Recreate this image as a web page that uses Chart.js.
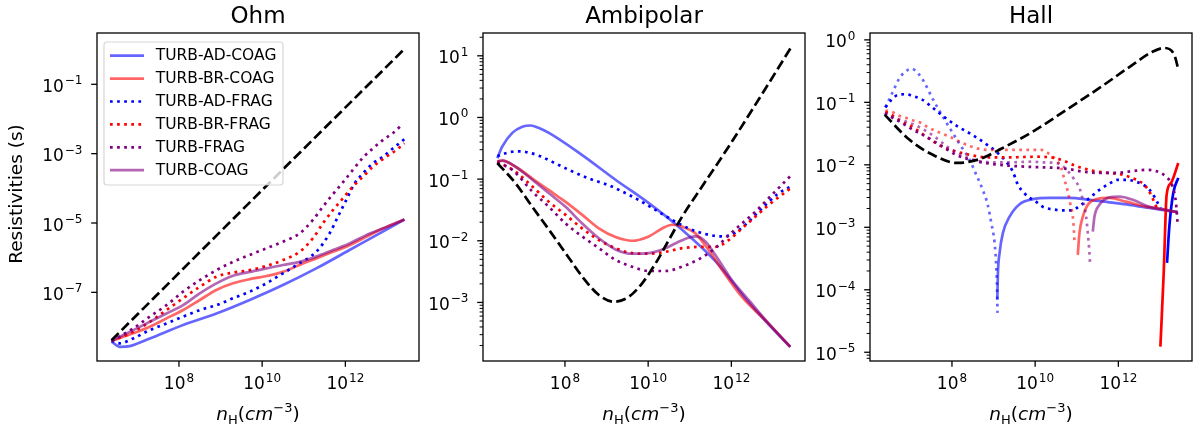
<!DOCTYPE html>
<html>
<head>
<meta charset="utf-8">
<script src="https://cdn.jsdelivr.net/npm/chart.js@4.4.0/dist/chart.umd.min.js"></script>
<style>
  body { margin: 0; background: #fff; }
  #wrap { position: relative; width: 1200px; height: 437px; overflow: hidden; }
  canvas { position: absolute; top: 0; }
</style>
</head>
<body>
<div id="wrap">
  <canvas id="ohm" width="420" height="437" style="left:0px"></canvas>
  <canvas id="ambi" width="390" height="437" style="left:420px"></canvas>
  <canvas id="hall" width="390" height="437" style="left:810px"></canvas>
</div>
<script>
// every point is [log10 nH, log10 resistivity]

// x axis (shared)
const xRange = [6.03, 13.77];
const xTicks = [8, 10, 12];

// Ohm panel
const ohmYRange = [-8.98, 0.48];
const ohmYTicks = [-7, -5, -3, -1];
const ohmAdCoag = [[6.38,-8.42],[6.58,-8.57],[6.82,-8.55],[7.3,-8.33],[8.1,-7.94],[8.9,-7.61],[9.7,-7.22],[10.5,-6.79],[11.3,-6.31],[12.1,-5.78],[12.9,-5.25],[13.42,-4.9]];
const ohmBrCoag = [[6.38,-8.4],[6.9,-8.18],[7.3,-7.99],[7.7,-7.75],[8.1,-7.51],[8.5,-7.22],[8.9,-6.93],[9.3,-6.74],[9.7,-6.62],[10.1,-6.53],[10.5,-6.41],[10.9,-6.21],[11.3,-6.02],[11.7,-5.83],[12.1,-5.64],[12.5,-5.4],[12.9,-5.16],[13.42,-4.9]];
const ohmAdFrag = [[6.38,-8.4],[6.58,-8.47],[6.9,-8.33],[7.3,-8.09],[7.7,-7.9],[8.1,-7.7],[8.5,-7.51],[8.9,-7.37],[9.3,-7.17],[9.7,-6.98],[10.1,-6.74],[10.5,-6.45],[10.9,-6.16],[11.3,-5.83],[11.62,-5.3],[11.82,-4.82],[12.02,-4.34],[12.22,-3.86],[12.42,-3.57],[12.66,-3.28],[12.9,-3.09],[13.14,-2.85],[13.34,-2.66],[13.42,-2.58]];
const ohmBrFrag = [[6.38,-8.4],[6.9,-8.14],[7.3,-7.85],[7.7,-7.51],[8.1,-7.17],[8.5,-6.84],[8.9,-6.55],[9.3,-6.43],[9.7,-6.36],[10.1,-6.24],[10.5,-6.07],[10.9,-5.83],[11.22,-5.44],[11.46,-5.01],[11.7,-4.63],[11.94,-4.29],[12.18,-3.95],[12.42,-3.67],[12.66,-3.38],[12.98,-3.09],[13.22,-2.9],[13.42,-2.7]];
const ohmFrag = [[6.38,-8.4],[6.9,-8.04],[7.3,-7.7],[7.7,-7.37],[8.1,-6.98],[8.5,-6.65],[8.9,-6.36],[9.3,-6.12],[9.7,-5.92],[10.1,-5.73],[10.5,-5.54],[10.9,-5.3],[11.22,-4.91],[11.46,-4.53],[11.7,-4.17],[11.94,-3.83],[12.18,-3.47],[12.42,-3.12],[12.66,-2.85],[12.9,-2.61],[13.14,-2.41],[13.34,-2.19]];
const ohmCoag = [[6.38,-8.4],[6.9,-8.09],[7.3,-7.85],[7.7,-7.61],[8.1,-7.37],[8.5,-7.03],[8.9,-6.74],[9.3,-6.52],[9.7,-6.41],[10.1,-6.31],[10.5,-6.21],[10.9,-6.12],[11.3,-5.97],[11.7,-5.78],[12.1,-5.59],[12.5,-5.35],[12.9,-5.16],[13.42,-4.9]];
const ohmTotal = [[6.38,-8.38],[10.0,-4.05],[13.42,0.02]];

// Ambipolar panel
const ambYRange = [-3.95, 1.37];
const ambYTicks = [-3, -2, -1, 0, 1];
const ambAdCoag = [[6.375,-0.66],[6.495,-0.47],[6.735,-0.25],[6.975,-0.15],[7.175,-0.13],[7.375,-0.17],[7.615,-0.25],[8.415,-0.61],[9.215,-1.01],[10.015,-1.39],[10.815,-1.82],[11.615,-2.33],[12.415,-3.0],[12.9,-3.36],[13.415,-3.72]];
const ambBrCoag = [[6.375,-0.71],[6.495,-0.7],[6.815,-0.8],[7.215,-0.99],[7.615,-1.18],[8.015,-1.37],[8.415,-1.58],[8.815,-1.8],[9.215,-1.94],[9.615,-2.0],[10.015,-1.93],[10.335,-1.8],[10.575,-1.74],[10.815,-1.77],[11.135,-1.88],[11.455,-2.15],[11.775,-2.47],[12.255,-2.91],[12.815,-3.29],[13.415,-3.72]];
const ambAdFrag = [[6.375,-0.63],[6.575,-0.58],[6.815,-0.55],[7.055,-0.56],[7.375,-0.62],[7.695,-0.72],[8.095,-0.85],[8.575,-0.99],[9.055,-1.1],[9.375,-1.2],[9.775,-1.34],[10.175,-1.5],[10.575,-1.66],[10.975,-1.8],[11.375,-1.89],[11.775,-1.93],[11.975,-1.91],[12.175,-1.83],[12.415,-1.69],[12.655,-1.53],[12.895,-1.37],[13.135,-1.23],[13.42,-1.12]];
const ambBrFrag = [[6.375,-0.71],[6.815,-0.88],[7.215,-1.12],[7.615,-1.37],[8.015,-1.58],[8.415,-1.8],[8.815,-1.99],[9.215,-2.12],[9.615,-2.2],[10.015,-2.21],[10.415,-2.18],[10.815,-2.12],[11.215,-2.1],[11.615,-2.1],[11.935,-1.99],[12.255,-1.8],[12.575,-1.61],[12.895,-1.42],[13.42,-1.15]];
const ambFrag = [[6.375,-0.74],[6.735,-0.85],[7.215,-1.2],[7.615,-1.45],[8.015,-1.72],[8.415,-1.93],[8.815,-2.12],[9.215,-2.31],[9.615,-2.42],[10.015,-2.49],[10.415,-2.49],[10.815,-2.42],[11.215,-2.3],[11.615,-2.12],[11.935,-1.91],[12.255,-1.72],[12.575,-1.53],[12.895,-1.31],[13.42,-0.95]];
const ambCoag = [[6.375,-0.71],[6.495,-0.7],[6.815,-0.8],[7.215,-1.01],[7.615,-1.23],[8.015,-1.45],[8.415,-1.72],[8.815,-1.96],[9.215,-2.14],[9.615,-2.21],[10.015,-2.2],[10.415,-2.12],[10.815,-1.99],[11.135,-1.93],[11.375,-2.01],[11.615,-2.23],[12.015,-2.64],[12.415,-2.96],[12.895,-3.34],[13.415,-3.72]];
const ambTotal = [[6.375,-0.74],[6.815,-1.07],[7.215,-1.45],[7.615,-1.82],[8.015,-2.2],[8.415,-2.58],[8.815,-2.88],[9.175,-2.99],[9.535,-2.91],[9.855,-2.69],[10.175,-2.37],[10.495,-1.99],[10.815,-1.61],[11.215,-1.2],[11.615,-0.8],[12.015,-0.39],[12.655,0.29],[13.42,1.12]];

// Hall panel (the fainter copies are the other sign)
const hallYRange = [-5.14, 0.11];
const hallYTicks = [-5, -4, -3, -2, -1, 0];
const hallAdFragNeg = [[6.40,-1.08],[6.58,-0.83],[6.74,-0.61],[6.86,-0.52],[7.03,-0.46],[7.18,-0.53],[7.345,-0.69],[7.51,-0.91],[7.71,-1.15],[7.945,-1.41],[8.225,-1.71],[8.425,-1.92],[8.585,-2.16],[8.74,-2.4],[8.86,-2.64],[8.945,-2.93],[9.025,-3.25],[9.065,-3.63],[9.085,-4.0],[9.095,-4.37]];
const hallAdFrag = [[6.40,-1.08],[6.545,-0.96],[6.7,-0.88],[6.9,-0.87],[7.06,-0.9],[7.27,-0.95],[7.545,-1.09],[7.825,-1.24],[8.145,-1.39],[8.465,-1.51],[8.785,-1.65],[9.065,-1.79],[9.305,-1.95],[9.465,-2.11],[9.585,-2.32],[9.705,-2.43],[9.85,-2.52],[10.0,-2.58],[10.18,-2.67],[10.505,-2.72],[10.865,-2.73],[11.105,-2.64],[11.345,-2.51],[11.545,-2.4],[11.785,-2.3],[11.985,-2.24],[12.185,-2.24],[12.425,-2.27],[12.665,-2.35],[12.82,-2.46],[12.945,-2.61],[13.02,-2.69]];
const hallBrFragNeg = [[6.40,-1.13],[6.545,-1.15],[6.745,-1.22],[6.905,-1.25],[7.065,-1.29],[7.265,-1.33],[7.425,-1.4],[7.945,-1.55],[8.425,-1.7],[8.825,-1.76],[9.385,-1.76],[9.945,-1.76],[10.145,-1.76],[10.305,-1.81],[10.505,-1.92],[10.625,-2.05],[10.705,-2.24],[10.785,-2.43],[10.84,-2.61],[10.905,-2.83],[10.93,-3.04],[10.945,-3.23]];
const hallBrFrag = [[6.40,-1.15],[6.545,-1.2],[6.745,-1.29],[7.065,-1.4],[7.385,-1.55],[7.705,-1.69],[8.025,-1.77],[8.425,-1.84],[8.825,-1.88],[9.385,-1.88],[10.025,-1.87],[10.465,-1.89],[10.665,-1.93],[10.985,-2.02],[11.345,-2.09],[11.745,-2.13],[12.105,-2.16],[12.425,-2.24],[12.625,-2.32],[12.785,-2.48],[12.89,-2.64],[12.95,-2.73]];
const hallFragNeg = [[6.385,-1.17],[6.585,-1.24],[6.905,-1.31],[7.225,-1.4],[7.585,-1.55],[7.905,-1.72],[8.225,-1.84],[8.585,-1.93],[8.985,-1.96],[9.385,-1.96],[9.945,-1.95],[10.185,-1.96],[10.465,-1.97],[10.625,-2.0],[10.825,-2.13],[10.945,-2.24],[11.065,-2.37],[11.145,-2.56],[11.225,-2.83],[11.265,-3.09],[11.305,-3.41],[11.32,-3.6]];
const hallFrag = [[6.385,-1.18],[6.745,-1.31],[7.065,-1.44],[7.385,-1.55],[7.705,-1.68],[8.105,-1.84],[8.505,-1.93],[8.905,-1.98],[9.305,-2.01],[9.785,-2.03],[10.185,-2.04],[10.545,-2.05],[10.825,-2.07],[11.145,-2.11],[11.545,-2.13],[11.945,-2.13],[12.345,-2.1],[12.665,-2.08],[12.905,-2.1],[13.145,-2.19],[13.305,-2.35],[13.385,-2.61],[13.425,-2.95]];
const hallAdCoag = [[9.09,-4.16],[9.105,-3.73],[9.145,-3.41],[9.225,-3.09],[9.385,-2.83],[9.625,-2.63],[9.945,-2.55],[10.345,-2.53],[10.825,-2.53],[11.305,-2.56],[11.785,-2.6],[12.265,-2.64],[12.745,-2.69],[13.225,-2.74],[13.42,-2.75]];
const hallBrCoag = [[11.025,-3.44],[11.065,-3.09],[11.145,-2.83],[11.265,-2.64],[11.465,-2.55],[11.785,-2.53],[12.185,-2.59],[12.665,-2.67],[13.145,-2.72],[13.42,-2.76]];
const hallCoag = [[11.385,-3.07],[11.425,-2.83],[11.545,-2.64],[11.785,-2.52],[12.025,-2.51],[12.345,-2.56],[12.745,-2.67],[13.145,-2.72],[13.43,-2.76]];
const hallAdCoagNeg = [[13.17,-3.57],[13.225,-2.99],[13.32,-2.45],[13.44,-2.21]];
const hallBrCoagNeg = [[13.01,-4.91],[13.09,-3.73],[13.16,-2.48],[13.265,-2.29],[13.44,-1.97]];
const hallTotal = [[6.385,-1.2],[6.98,-1.6],[7.54,-1.84],[8.11,-1.97],[8.66,-1.91],[9.22,-1.73],[9.94,-1.47],[10.75,-1.12],[11.545,-0.77],[12.34,-0.4],[12.82,-0.19],[13.1,-0.13],[13.345,-0.24],[13.44,-0.47]];

const LW = 2.7;
const DOT = [2.7, 4.4];
const DASH = [10, 4.3];
const st = {
  adCoag: { color: 'rgba(0,0,255,0.6)', dash: [] },
  brCoag: { color: 'rgba(255,0,0,0.6)', dash: [] },
  adFrag: { color: '#0000ff', dash: DOT },
  brFrag: { color: '#ff0000', dash: DOT },
  frag: { color: '#800080', dash: DOT },
  coag: { color: 'rgba(128,0,128,0.6)', dash: [] },
  adFragNeg: { color: 'rgba(0,0,255,0.6)', dash: DOT },
  brFragNeg: { color: 'rgba(255,0,0,0.6)', dash: DOT },
  fragNeg: { color: 'rgba(128,0,128,0.6)', dash: DOT },
  adCoagNeg: { color: '#0000ff', dash: [] },
  brCoagNeg: { color: '#ff0000', dash: [] },
  total: { color: '#000000', dash: DASH }
};

const FONT = '"DejaVu Sans", sans-serif';
const pts = a => a.map(p => ({ x: 10 ** p[0], y: 10 ** p[1] }));

function drawLegend(chart) {
  const ctx = chart.ctx;
  const items = chart.data.datasets.filter(d => d.label);
  ctx.save();
  ctx.beginPath();
  if (ctx.roundRect) ctx.roundRect(104, 42, 179, 143, 3); else ctx.rect(104, 42, 179, 143);
  ctx.fillStyle = 'rgba(255,255,255,0.8)';
  ctx.fill();
  ctx.lineWidth = 1.2;
  ctx.strokeStyle = 'rgba(204,204,204,0.8)';
  ctx.stroke();
  ctx.font = '15.5px ' + FONT;
  ctx.textBaseline = 'middle';
  items.forEach((d, i) => {
    const y = 55.7 + i * 22.9;
    ctx.beginPath();
    ctx.setLineDash(d.borderDash);
    ctx.strokeStyle = d.borderColor;
    ctx.lineWidth = LW;
    ctx.moveTo(110, y);
    ctx.lineTo(144, y);
    ctx.stroke();
    ctx.setLineDash([]);
    ctx.fillStyle = '#000';
    ctx.fillText(d.label, 155.7, y + 0.5);
  });
  ctx.restore();
}

// "10" with a raised exponent, like matplotlib's log tick labels
function drawPow(ctx, e, x, base, align) {
  const mainF = '17px ' + FONT, expF = '12px ' + FONT;
  const ex = String(e).replace('-', '−');
  ctx.font = mainF;
  const w1 = ctx.measureText('10').width;
  ctx.font = expF;
  const w2 = ctx.measureText(ex).width;
  const left = align === 'right' ? x - w1 - 1 - w2 : x - (w1 + 1 + w2) / 2;
  ctx.textAlign = 'left';
  ctx.textBaseline = 'alphabetic';
  ctx.font = mainF;
  ctx.fillText('10', left, base);
  ctx.font = expF;
  ctx.fillText(ex, left + w1 + 1, base - 7.5);
}

function drawXLabel(ctx, cx, base) {
  const big = '18.5px ' + FONT, bigI = 'italic 18.5px ' + FONT, small = '13px ' + FONT;
  const parts = [['n', bigI, 0], ['H', small, 4], ['(', big, 0], ['cm', bigI, 0], ['−3', small, -8], [')', big, 0]];
  let w = 0;
  parts.forEach(p => { ctx.font = p[1]; w += ctx.measureText(p[0]).width; });
  let x = cx - w / 2;
  ctx.textAlign = 'left';
  ctx.textBaseline = 'alphabetic';
  parts.forEach(p => {
    ctx.font = p[1];
    ctx.fillText(p[0], x, base + p[2]);
    x += ctx.measureText(p[0]).width;
  });
}

const framePlugin = {
  id: 'frame',
  afterDatasetsDraw(chart, args, opts) {
    if (opts.legend) drawLegend(chart);
  },
  afterDraw(chart, args, opts) {
    const { ctx, chartArea: a } = chart;
    const xs = chart.scales.x, ys = chart.scales.y;
    ctx.save();
    ctx.strokeStyle = '#000';
    ctx.fillStyle = '#000';

    // minor ticks on the y axis
    if (opts.minor) {
      ctx.lineWidth = 1;
      const lo = Math.floor(Math.log10(ys.min)), hi = Math.ceil(Math.log10(ys.max));
      for (let e = lo; e <= hi; e++) {
        for (let k = 2; k < 10; k++) {
          const v = k * 10 ** e;
          if (v < ys.min || v > ys.max) continue;
          const py = ys.getPixelForValue(v);
          ctx.beginPath();
          ctx.moveTo(a.left, py);
          ctx.lineTo(a.left - 3.4, py);
          ctx.stroke();
        }
      }
    }

    // major ticks and labels
    ctx.lineWidth = 1.3;
    xs.ticks.forEach(t => {
      const px = xs.getPixelForValue(t.value);
      ctx.beginPath();
      ctx.moveTo(px, a.bottom);
      ctx.lineTo(px, a.bottom + 5.8);
      ctx.stroke();
      drawPow(ctx, Math.round(Math.log10(t.value)), px, a.bottom + 28, 'center');
    });
    ys.ticks.forEach(t => {
      const py = ys.getPixelForValue(t.value);
      ctx.beginPath();
      ctx.moveTo(a.left, py);
      ctx.lineTo(a.left - 5.8, py);
      ctx.stroke();
      drawPow(ctx, Math.round(Math.log10(t.value)), a.left - 14.5, py + 7.5, 'right');
    });

    ctx.strokeRect(a.left, a.top, a.right - a.left, a.bottom - a.top);

    const cx = (a.left + a.right) / 2;
    ctx.font = '23px ' + FONT;
    ctx.textAlign = 'center';
    ctx.textBaseline = 'alphabetic';
    ctx.fillText(opts.title, cx, 23);

    if (opts.ylabel) {
      ctx.save();
      ctx.translate(17, 194);
      ctx.rotate(-Math.PI / 2);
      ctx.font = '18.5px ' + FONT;
      ctx.textAlign = 'center';
      ctx.textBaseline = 'middle';
      ctx.fillText(opts.ylabel, 0, 0);
      ctx.restore();
    }
    drawXLabel(ctx, cx, 420);
    ctx.restore();
  }
};

function makeChart(id, p) {
  return new Chart(document.getElementById(id), {
    type: 'line',
    data: {
      datasets: p.lines.map((l, i) => ({
        label: l[1],
        data: pts(l[0]),
        borderColor: l[2].color,
        borderDash: l[2].dash,
        borderWidth: LW,
        pointRadius: 0,
        fill: false,
        cubicInterpolationMode: 'monotone',
        order: -i
      }))
    },
    options: {
      responsive: false,
      animation: false,
      events: [],
      layout: { padding: { top: 33, right: p.rightPad, left: 0, bottom: 0 } },
      plugins: {
        legend: { display: false },
        tooltip: { enabled: false },
        frame: { title: p.title, minor: p.minor, legend: p.legend, ylabel: p.ylabel }
      },
      scales: {
        x: {
          type: 'logarithmic',
          min: 10 ** xRange[0],
          max: 10 ** xRange[1],
          afterBuildTicks: s => { s.ticks = xTicks.map(e => ({ value: 10 ** e })); },
          afterFit: s => { s.height = 76; },
          grid: { display: false },
          border: { display: false },
          ticks: { display: false }
        },
        y: {
          type: 'logarithmic',
          min: 10 ** p.yRange[0],
          max: 10 ** p.yRange[1],
          afterBuildTicks: s => { s.ticks = p.yTicks.map(e => ({ value: 10 ** e })); },
          afterFit: s => { s.width = p.yWidth; },
          grid: { display: false },
          border: { display: false },
          ticks: { display: false }
        }
      }
    },
    plugins: [framePlugin]
  });
}

makeChart('ohm', {
  title: 'Ohm', ylabel: 'Resistivities (s)', legend: true, minor: false,
  yRange: ohmYRange, yTicks: ohmYTicks, yWidth: 97, rightPad: 1,
  lines: [
    [ohmAdCoag, 'TURB-AD-COAG', st.adCoag],
    [ohmBrCoag, 'TURB-BR-COAG', st.brCoag],
    [ohmAdFrag, 'TURB-AD-FRAG', st.adFrag],
    [ohmBrFrag, 'TURB-BR-FRAG', st.brFrag],
    [ohmFrag, 'TURB-FRAG', st.frag],
    [ohmCoag, 'TURB-COAG', st.coag],
    [ohmTotal, '', st.total]
  ]
});

makeChart('ambi', {
  title: 'Ambipolar', minor: true,
  yRange: ambYRange, yTicks: ambYTicks, yWidth: 63, rightPad: 5,
  lines: [
    [ambAdCoag, '', st.adCoag],
    [ambBrCoag, '', st.brCoag],
    [ambAdFrag, '', st.adFrag],
    [ambBrFrag, '', st.brFrag],
    [ambFrag, '', st.frag],
    [ambCoag, '', st.coag],
    [ambTotal, '', st.total]
  ]
});

makeChart('hall', {
  title: 'Hall', minor: true,
  yRange: hallYRange, yTicks: hallYTicks, yWidth: 60, rightPad: 8,
  lines: [
    [hallAdCoag, '', st.adCoag],
    [hallAdCoagNeg, '', st.adCoagNeg],
    [hallBrCoag, '', st.brCoag],
    [hallBrCoagNeg, '', st.brCoagNeg],
    [hallAdFragNeg, '', st.adFragNeg],
    [hallAdFrag, '', st.adFrag],
    [hallBrFragNeg, '', st.brFragNeg],
    [hallBrFrag, '', st.brFrag],
    [hallFragNeg, '', st.fragNeg],
    [hallFrag, '', st.frag],
    [hallCoag, '', st.coag],
    [hallTotal, '', st.total]
  ]
});
</script>
</body>
</html>
